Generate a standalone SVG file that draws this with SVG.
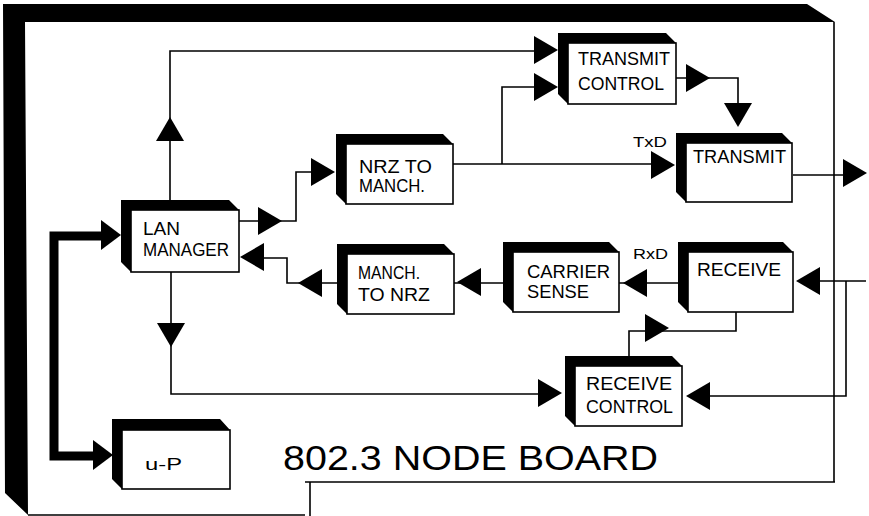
<svg xmlns="http://www.w3.org/2000/svg" xmlns:xlink="http://www.w3.org/1999/xlink" width="869" height="516" viewBox="0 0 869 516">
<style>
.ln{fill:none;stroke:#000;stroke-width:1.6}
.bus{fill:none;stroke:#000;stroke-width:9;stroke-linejoin:miter}
.sh{fill:#000}
.face{fill:#fff;stroke:#000;stroke-width:1.6}
.t{font-family:"Liberation Sans",Arial,sans-serif;font-size:18px;fill:#000}
.s{font-family:"Liberation Sans",Arial,sans-serif;font-size:14px;fill:#000}
.title{font-family:"Liberation Sans",Arial,sans-serif;font-size:35px;fill:#000}
</style>
<defs>
<polygon id="ah" points="0,0 -24,-14 -24,14" fill="#000"/>
<polygon id="ahb" points="0,0 -20,-15 -20,15" fill="#000"/>
</defs>
<rect width="869" height="516" fill="#fff"/>
<g id="board">
<polygon class="sh" points="3,4 807,4 835,22 25,22 28,515 5,493"/>
<path class="ln" d="M834,22 V482 M305,482 H835 M310,482 V516 M28,515 H305"/>
</g>
<g id="connectors">
<path class="ln" d="M170,201 V51 H545"/>
<path class="ln" d="M453,164 H660 M502,164 V87 H545"/>
<path class="ln" d="M676,78 H738 V110"/>
<path class="ln" d="M793,175 H850"/>
<path class="ln" d="M866,281 H810 M846,281 V396 H700"/>
<path class="ln" d="M678,283 H615"/>
<path class="ln" d="M503,283 H450"/>
<path class="ln" d="M337,283 H287 V258 H250"/>
<path class="ln" d="M239,221 H296 V172 H325"/>
<path class="ln" d="M171,272 V394 H550"/>
<path class="ln" d="M736,312 V331 H629 V357"/>
<path class="bus" d="M105,236 H54 V456 H100"/>
<use xlink:href="#ah" transform="translate(170,117) rotate(-90)"/>
<use xlink:href="#ah" transform="translate(558,50)"/>
<use xlink:href="#ah" transform="translate(558,87)"/>
<use xlink:href="#ah" transform="translate(675,165)"/>
<use xlink:href="#ah" transform="translate(710,78)"/>
<use xlink:href="#ah" transform="translate(738,127) rotate(90)"/>
<use xlink:href="#ah" transform="translate(867,173)"/>
<use xlink:href="#ah" transform="translate(796,281) rotate(180)"/>
<use xlink:href="#ah" transform="translate(686,396) rotate(180)"/>
<use xlink:href="#ah" transform="translate(623,283) rotate(180)"/>
<use xlink:href="#ah" transform="translate(457,282) rotate(180)"/>
<use xlink:href="#ah" transform="translate(298,283) rotate(180)"/>
<use xlink:href="#ah" transform="translate(240,257) rotate(180)"/>
<use xlink:href="#ah" transform="translate(282,221)"/>
<use xlink:href="#ah" transform="translate(335,172)"/>
<use xlink:href="#ah" transform="translate(171,347) rotate(90)"/>
<use xlink:href="#ah" transform="translate(562,393)"/>
<use xlink:href="#ah" transform="translate(669,328)"/>
<use xlink:href="#ahb" transform="translate(121,235)"/>
<use xlink:href="#ahb" transform="translate(113,455)"/>
<text class="s" x="633" y="147" textLength="34" lengthAdjust="spacingAndGlyphs">TxD</text>
<text class="s" x="633" y="259" textLength="35" lengthAdjust="spacingAndGlyphs">RxD</text>
</g>
<g id="lan-manager">
<polygon class="sh" points="121,200 229,200 239,210 131,210 131,272 121,262"/>
<rect class="face" x="131" y="210" width="108" height="62"/>
<text class="t" x="143" y="235" textLength="37" lengthAdjust="spacingAndGlyphs">LAN</text>
<text class="t" x="143" y="256" textLength="86" lengthAdjust="spacingAndGlyphs">MANAGER</text>
</g>
<g id="nrz-to-manch">
<polygon class="sh" points="336,134 443,134 453,144 346,144 346,204 336,194"/>
<rect class="face" x="346" y="144" width="107" height="60"/>
<text class="t" x="359" y="173" textLength="73" lengthAdjust="spacingAndGlyphs">NRZ TO</text>
<text class="t" x="359" y="192" textLength="66" lengthAdjust="spacingAndGlyphs">MANCH.</text>
</g>
<g id="transmit-control">
<polygon class="sh" points="558,33 666,33 676,43 568,43 568,104 558,94"/>
<rect class="face" x="568" y="43" width="108" height="61"/>
<text class="t" x="578" y="65" textLength="92" lengthAdjust="spacingAndGlyphs">TRANSMIT</text>
<text class="t" x="578" y="90" textLength="86" lengthAdjust="spacingAndGlyphs">CONTROL</text>
</g>
<g id="transmit">
<polygon class="sh" points="676,133 782,133 792,143 686,143 686,202 676,192"/>
<rect class="face" x="686" y="143" width="106" height="59"/>
<text class="t" x="693" y="163" textLength="93" lengthAdjust="spacingAndGlyphs">TRANSMIT</text>
</g>
<g id="receive">
<polygon class="sh" points="678,242 783,242 793,252 688,252 688,312 678,302"/>
<rect class="face" x="688" y="252" width="105" height="60"/>
<text class="t" x="697" y="276" textLength="84" lengthAdjust="spacingAndGlyphs">RECEIVE</text>
</g>
<g id="carrier-sense">
<polygon class="sh" points="503,242 609,242 619,252 513,252 513,312 503,302"/>
<rect class="face" x="513" y="252" width="106" height="60"/>
<text class="t" x="527" y="278" textLength="83" lengthAdjust="spacingAndGlyphs">CARRIER</text>
<text class="t" x="527" y="298" textLength="62" lengthAdjust="spacingAndGlyphs">SENSE</text>
</g>
<g id="manch-to-nrz">
<polygon class="sh" points="337,244 444,244 454,254 347,254 347,314 337,304"/>
<rect class="face" x="347" y="254" width="107" height="60"/>
<text class="t" x="358" y="279" textLength="62" lengthAdjust="spacingAndGlyphs">MANCH.</text>
<text class="t" x="358" y="301" textLength="72" lengthAdjust="spacingAndGlyphs">TO NRZ</text>
</g>
<g id="receive-control">
<polygon class="sh" points="565,356 672,356 682,366 575,366 575,426 565,416"/>
<rect class="face" x="575" y="366" width="107" height="60"/>
<text class="t" x="586" y="390" textLength="86" lengthAdjust="spacingAndGlyphs">RECEIVE</text>
<text class="t" x="586" y="413" textLength="87" lengthAdjust="spacingAndGlyphs">CONTROL</text>
</g>
<g id="u-p">
<polygon class="sh" points="112,419 220,419 230,430 122,430 122,489 112,479"/>
<rect class="face" x="122" y="430" width="108" height="59"/>
<text class="s" x="145" y="470" textLength="37" lengthAdjust="spacingAndGlyphs" style="font-size:17px">u-P</text>
</g>
<g id="title">
<text class="title" x="283" y="470" textLength="375" lengthAdjust="spacingAndGlyphs">802.3 NODE BOARD</text>
</g>
</svg>
